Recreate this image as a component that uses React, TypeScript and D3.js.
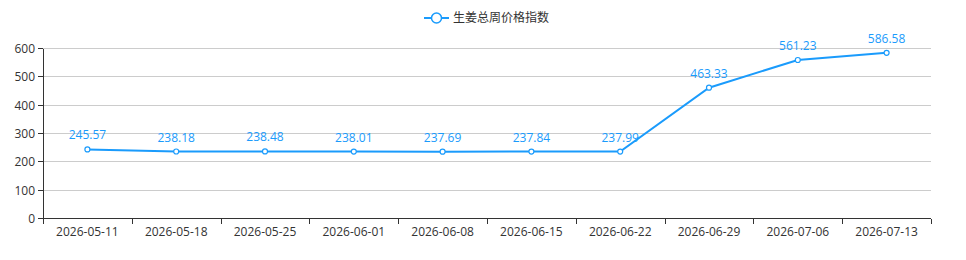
import React from "react";
import * as d3 from "d3";

const categories = ["2026-05-11","2026-05-18","2026-05-25","2026-06-01","2026-06-08","2026-06-15","2026-06-22","2026-06-29","2026-07-06","2026-07-13"];
const values = [245.57,238.18,238.48,238.01,237.69,237.84,237.99,463.33,561.23,586.58];
const yTicks = [0,100,200,300,400,500,600];
const seriesName = "生姜总周价格指数";

const W = 966, H = 260;
const left = 43, right = 931, top = 49, bottom = 219;
const color = "#1a9bfc";
const font = "'Open Sans','Noto Sans CJK SC',sans-serif";

export default function App() {
  const x = d3.scaleBand<string>().domain(categories).range([left, right]);
  const y = d3.scaleLinear().domain([0, 600]).range([bottom, top]);
  const cx = (c: string) => (x(c) as number) + x.bandwidth() / 2;
  const line = d3.line<number>().x((_, i) => cx(categories[i])).y(d => y(d));
  const boundaries = categories.map(c => x(c) as number).concat([right]);
  return (
    <svg width={W} height={H} style={{ position: "absolute", left: 0, top: 0, fontFamily: font }}>
      <rect width={W} height={H} fill="#fff" />
      {/* legend */}
      <g>
        <line x1={424} x2={449} y1={18} y2={18} stroke={color} strokeWidth={2} />
        <circle cx={436.5} cy={18} r={5} fill="#fff" stroke={color} strokeWidth={1.5} />
        <text x={453} y={22} fontSize={12} fill="#333" fontFamily="'Noto Sans CJK SC',sans-serif">{seriesName}</text>
      </g>
      {/* grid */}
      {yTicks.filter(t => t > 0).map(t => (
        <line key={t} x1={left} x2={right} y1={Math.round(y(t)) - 0.5} y2={Math.round(y(t)) - 0.5} stroke="#ccc" strokeWidth={1} />
      ))}
      {/* y axis */}
      <line x1={left + 0.5} x2={left + 0.5} y1={top} y2={bottom} stroke="#333" />
      {yTicks.map(t => (
        <g key={t}>
          <line x1={left - 5} x2={left} y1={Math.round(y(t)) - 0.5} y2={Math.round(y(t)) - 0.5} stroke="#333" />
          <text x={left - 8} y={y(t) + 4} fontSize={12} fill="#333" textAnchor="end">{t}</text>
        </g>
      ))}
      {/* x axis */}
      <line x1={left} x2={right} y1={bottom - 0.5} y2={bottom - 0.5} stroke="#333" />
      {boundaries.map((b, i) => (
        <line key={i} x1={Math.round(b) + 0.5} x2={Math.round(b) + 0.5} y1={bottom} y2={bottom + 5} stroke="#333" />
      ))}
      {categories.map(c => (
        <text key={c} x={cx(c)} y={bottom + 17} fontSize={12} fill="#333" textAnchor="middle">{c}</text>
      ))}
      {/* series */}
      <path d={line(values) || ""} fill="none" stroke={color} strokeWidth={2} />
      {values.map((v, i) => (
        <g key={i}>
          <circle cx={cx(categories[i])} cy={y(v)} r={2.5} fill="#fff" stroke={color} strokeWidth={1.2} />
          <text x={cx(categories[i])} y={y(v) - 10} fontSize={12} fill={color} textAnchor="middle">{v.toFixed(2)}</text>
        </g>
      ))}
    </svg>
  );
}
